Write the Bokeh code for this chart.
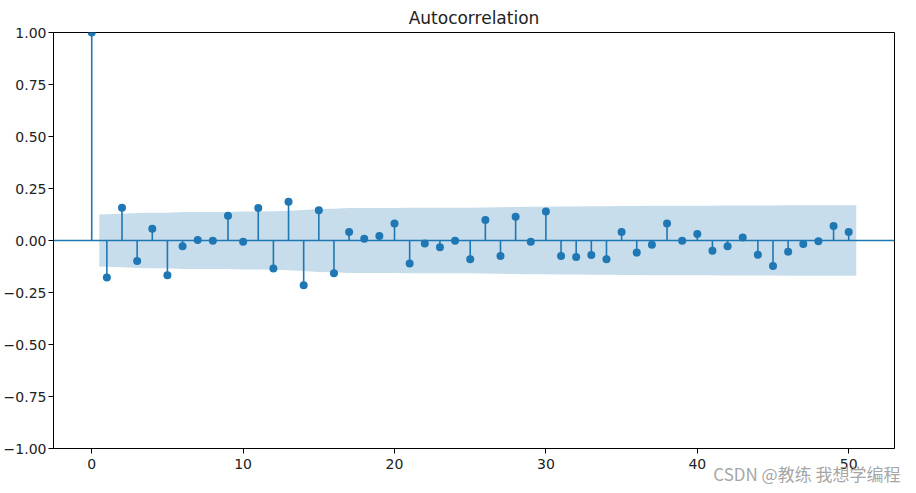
from bokeh.plotting import figure
from bokeh.models import Range1d, FixedTicker, CustomJSTickFormatter, Span, Title, ColumnDataSource
from bokeh.embed import file_html
from bokeh.resources import INLINE

# ---- data ----
lags = list(range(0, 51))
acf = [1.0, -0.178, 0.157, -0.098, 0.057, -0.167, -0.028, 0.003, -0.001, 0.119,
       -0.006, 0.156, -0.135, 0.186, -0.215, 0.145, -0.157, 0.041, 0.009, 0.022,
       0.082, -0.111, -0.015, -0.033, -0.001, -0.090, 0.098, -0.074, 0.114, -0.006,
       0.140, -0.074, -0.079, -0.070, -0.090, 0.041, -0.058, -0.020, 0.082, -0.001,
       0.031, -0.049, -0.028, 0.015, -0.068, -0.122, -0.054, -0.017, -0.004, 0.070,
       0.041]
# confidence band half-width for lags 1..50
band = [0.125, 0.129, 0.132, 0.133, 0.134, 0.137, 0.137, 0.137, 0.137, 0.139,
        0.139, 0.141, 0.143, 0.147, 0.151, 0.153, 0.156, 0.156, 0.156, 0.156,
        0.157, 0.158, 0.158, 0.158, 0.158, 0.159, 0.160, 0.161, 0.162, 0.162,
        0.164, 0.164, 0.165, 0.165, 0.166, 0.166, 0.167, 0.167, 0.167, 0.167,
        0.167, 0.168, 0.168, 0.168, 0.168, 0.170, 0.170, 0.170, 0.170, 0.170]
x_ticks = [0, 10, 20, 30, 40, 50]
y_ticks = [-1.0, -0.75, -0.5, -0.25, 0.0, 0.25, 0.5, 0.75, 1.0]
title_text = "Autocorrelation"
watermark = "CSDN @教练 我想学编程"

BLUE = "#1f77b4"
FONT = "DejaVu Sans"

p = figure(width=916, height=493, output_backend="svg", toolbar_location=None,
           x_range=Range1d(-2.525, 53.025), y_range=Range1d(-1.0, 1.0),
           min_border_left=53, min_border_right=22, min_border_top=31, min_border_bottom=45)
p.background_fill_color = "white"
p.border_fill_color = "white"
p.outline_line_color = "black"
p.outline_line_width = 1
p.xgrid.visible = False
p.ygrid.visible = False

p.title.text = title_text
p.title.align = "center"
p.title.text_font = FONT
p.title.text_font_size = "17px"
p.title.text_font_style = "normal"
p.title.text_color = "#222222"
p.title.standoff = 10

# confidence band
band_x = [float(v) for v in lags[1:]]
band_x[0] -= 0.5
band_x[-1] += 0.5
p.varea(x=band_x, y1=[-b for b in band], y2=band, fill_color=BLUE, fill_alpha=0.25)

# zero line
p.add_layout(Span(location=0, dimension="width", line_color=BLUE, line_width=1.5))

# stems and markers
src = ColumnDataSource(dict(x=lags, y=acf, y0=[0] * len(lags)))
p.segment(x0="x", y0="y0", x1="x", y1="y", source=src, line_color=BLUE, line_width=1.6)
p.scatter(x="x", y="y", source=src, size=8, fill_color=BLUE, line_color=BLUE, line_width=0)

# axes
minus_fmt = CustomJSTickFormatter(code="return tick.toFixed(2).replace('-', '\u2212');")
p.yaxis.ticker = FixedTicker(ticks=y_ticks)
p.yaxis.formatter = minus_fmt
p.xaxis.ticker = FixedTicker(ticks=x_ticks)
for ax in (p.xaxis, p.yaxis):
    ax.axis_line_color = "black"
    ax.axis_line_width = 1
    ax.major_tick_line_color = "black"
    ax.major_tick_out = 5
    ax.major_tick_in = 0
    ax.minor_tick_out = 0
    ax.minor_tick_in = 0
    ax.major_label_text_font = FONT
    ax.major_label_text_font_size = "14px"
    ax.major_label_text_color = "#222222"
    ax.major_label_standoff = 5
p.yaxis.major_label_standoff = 2

# watermark
wm = Title(text=watermark, align="right", text_font="Noto Sans CJK SC",
           text_font_size="17px", text_font_style="normal",
           text_color="#9a9a9a", text_alpha=0.9, standoff=-26, offset=-6)
p.add_layout(wm, "below")

open("out.html", "w").write(file_html(p, INLINE))
